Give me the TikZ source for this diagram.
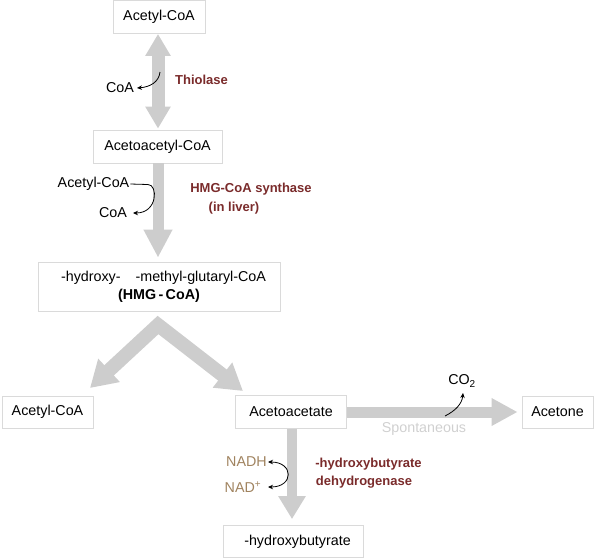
\documentclass[tikz,border=0pt]{standalone}
\usepackage{fontspec}
\setmainfont{Liberation Sans}
\usetikzlibrary{arrows.meta}
\definecolor{arrowgray}{HTML}{CDCDCD}
\definecolor{boxgray}{HTML}{DADADA}
\definecolor{enzred}{HTML}{7A2B2B}
\definecolor{cofbrown}{HTML}{A0835F}
\definecolor{spgray}{HTML}{D0D0D0}
\tikzset{
  lab/.style={font=\fontsize{14.3}{17}\selectfont, inner sep=1pt},
  box/.style={lab, draw=boxgray, line width=0.8pt, fill=white, inner sep=0pt},
  enz/.style={font=\fontsize{13}{16}\selectfont\bfseries, text=enzred, inner sep=1pt},
  fat/.style={draw=arrowgray, line width=#1},
  smallarr/.style={draw=black, line width=0.8pt, -{Stealth[length=5pt,width=4.5pt]}},
}
\begin{document}
\begin{tikzpicture}[x=1pt,y=-1pt]
\useasboundingbox (0,0) rectangle (596,558);
% boxes
\node[box, minimum width=92pt, minimum height=33pt] (acoa) at (159,16.5) {Acetyl-CoA};
\node[box, minimum width=129pt, minimum height=33pt] (aacoa) at (157.5,146.5) {Acetoacetyl-CoA};
\node[box, minimum width=242pt, minimum height=49pt, align=center] (hmg) at (159,286.5)
  {\hspace*{9pt}-hydroxy-\hspace{15pt}-methyl-glutaryl-CoA\\[1pt]\textbf{(HMG\,-\,CoA)}};
\node[box, minimum width=91pt, minimum height=32pt] (acl) at (47.5,412) {Acetyl-CoA};
\node[box, minimum width=111pt, minimum height=33pt] (aca) at (291,412) {Acetoacetate};
\node[box, minimum width=71pt, minimum height=32pt] (acet) at (557.5,412) {Acetone};
\node[box, minimum width=140pt, minimum height=32pt] (hb) at (293,541.5) {\hspace*{9pt}-hydroxybutyrate};
% plain labels
\node[lab] (coa1) at (120,88) {CoA};
\node[enz] (thio) at (201.5,80) {Thiolase};
\node[lab] (acl2) at (93.5,184) {Acetyl-CoA};
\node[lab] (coa2) at (113,213) {CoA};
\node[enz] (syn1) at (251,189) {HMG-CoA synthase};
\node[enz] (syn2) at (234,208) {(in liver)};
\node[lab] (co2) at (462,381) {CO\textsubscript{2}};
\node[lab, text=spgray] (spont) at (424,429) {Spontaneous};
\node[lab, text=cofbrown] (nadh) at (246.5,462) {NADH};
\node[lab, text=cofbrown] (nad) at (243,487) {NAD\textsuperscript{+}};
\node[enz] (dh1) at (365,464) {\hspace*{7pt}-hydroxybutyrate};
\node[enz] (dh2) at (364,482) {dehydrogenase};
% coordinates
\coordinate (vapex) at (158,325);
\coordinate (vl) at (90,388);
\coordinate (vr) at (243,391);
\coordinate (t1) at (160,72);
\coordinate (c1) at (137,88);
\coordinate (s1) at (148,184.5);
\coordinate (s2) at (133,213);
\coordinate (n1) at (268,462);
\coordinate (n2) at (268,487);
\coordinate (k1) at (445,416);
\coordinate (k2) at (463,393);
% fat arrows
\draw[fat=13pt, {Triangle[width=24pt,length=22pt]}-{Triangle[width=24pt,length=22pt]}, shorten <=0.5pt, shorten >=1pt]
  (acoa.south -| 158,0) -- (aacoa.north -| 158,0);
\draw[fat=11pt, -{Triangle[width=27pt,length=28pt]}, shorten >=4pt]
  (aacoa.south -| 158,0) -- (hmg.north -| 158,0);
\draw[fat=14pt, miter limit=10, {Triangle[width=30pt,length=26pt]}-{Triangle[width=30pt,length=26pt]}]
  (vl) -- (vapex) -- (vr);
\draw[fat=11pt, -{Triangle[width=26pt,length=26pt]}, shorten >=4pt]
  (aca.east) -- (acet.west);
\draw[fat=10pt, -{Triangle[width=26pt,length=23pt]}, shorten >=6pt]
  (aca.south -| 292,0) -- (hb.north -| 292,0);
% small arrows
\draw[smallarr] (t1) .. controls (159,82) and (150,87) .. (c1);
\draw[smallarr] (acl2.east) -- (s1) .. controls (158,184.5) and (158,213) .. (s2);
\draw[smallarr, {Stealth[length=5pt,width=4.5pt]}-{Stealth[length=5pt,width=4.5pt]}] (n1) .. controls (294,462) and (294,487) .. (n2);
\draw[smallarr] (k1) .. controls (455,411) and (462,404) .. (k2);
\end{tikzpicture}
\end{document}
